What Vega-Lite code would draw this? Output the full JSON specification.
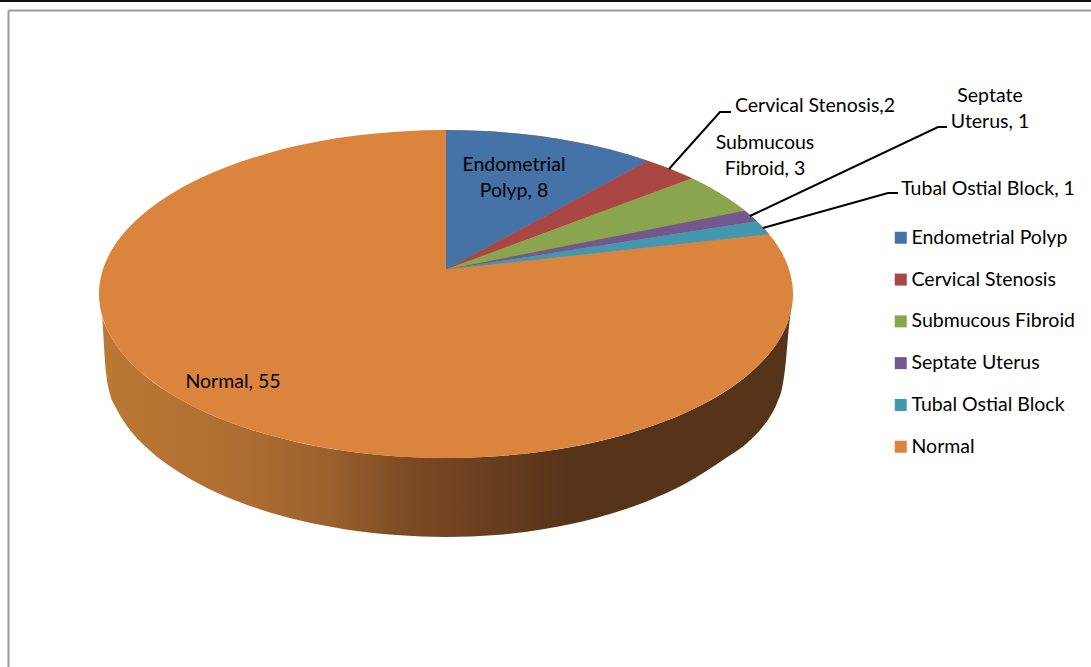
{
  "$schema": "https://vega.github.io/schema/vega-lite/v6.json",
  "width": 1091,
  "height": 667,
  "padding": 0,
  "autosize": "none",
  "background": "white",
  "config": {"view": {"stroke": null}, "font": "Lato"},
  "datasets": {
    "wall": [
      {"x": -347, "y": 0, "y2": 0}, {"x": -344, "y": -21.5, "y2": -21.5}, {"x": -340, "y": -32.8, "y2": -78},
      {"x": -336, "y": -41, "y2": -100}, {"x": -330, "y": -50.7, "y2": -113.9}, {"x": -320, "y": -63.4, "y2": -130.4},
      {"x": -300, "y": -82.4, "y2": -153}, {"x": -270, "y": -103, "y2": -176.3}, {"x": -240, "y": -118.5, "y2": -193.4},
      {"x": -200, "y": -134, "y2": -210.5}, {"x": -150, "y": -147.9, "y2": -225.6}, {"x": -100, "y": -157, "y2": -235.5},
      {"x": -50, "y": -162.3, "y2": -241.1},
      {"x": 0, "y": -164, "y2": -243},
      {"x": 50, "y": -162.3, "y2": -241}, {"x": 100, "y": -157, "y2": -234.8}, {"x": 150, "y": -147.9, "y2": -224},
      {"x": 200, "y": -134, "y2": -207.7}, {"x": 240, "y": -118.5, "y2": -189.2}, {"x": 280, "y": -96.9, "y2": -164},
      {"x": 300, "y": -82.4, "y2": -150}, {"x": 314, "y": -69.8, "y2": -136}, {"x": 325, "y": -57.5, "y2": -121},
      {"x": 331, "y": -49.2, "y2": -109}, {"x": 337, "y": -39.1, "y2": -89},
      {"x": 340, "y": -32.8, "y2": -66}, {"x": 342, "y": -27.7, "y2": -43}, {"x": 347, "y": 0, "y2": 0}
    ],
    "disk": [
      {"slice": "Normal", "order": 1, "x": 347, "y": 0}, {"slice": "Normal", "order": 2, "x": 335.2, "y": 42.4},
      {"slice": "Normal", "order": 3, "x": 300.5, "y": 82}, {"slice": "Normal", "order": 4, "x": 245.4, "y": 116},
      {"slice": "Normal", "order": 5, "x": 173.5, "y": 142}, {"slice": "Normal", "order": 6, "x": 89.8, "y": 158.4},
      {"slice": "Normal", "order": 7, "x": 0, "y": 164}, {"slice": "Normal", "order": 8, "x": -89.8, "y": 158.4},
      {"slice": "Normal", "order": 9, "x": -173.5, "y": 142}, {"slice": "Normal", "order": 10, "x": -245.4, "y": 116},
      {"slice": "Normal", "order": 11, "x": -300.5, "y": 82}, {"slice": "Normal", "order": 12, "x": -335.2, "y": 42.4},
      {"slice": "Normal", "order": 13, "x": -347, "y": 0}, {"slice": "Normal", "order": 14, "x": -335.2, "y": -42.4},
      {"slice": "Normal", "order": 15, "x": -300.5, "y": -82}, {"slice": "Normal", "order": 16, "x": -245.4, "y": -116},
      {"slice": "Normal", "order": 17, "x": -173.5, "y": -142}, {"slice": "Normal", "order": 18, "x": -89.8, "y": -158.4},
      {"slice": "Normal", "order": 19, "x": 0, "y": -164}, {"slice": "Normal", "order": 20, "x": 89.8, "y": -158.4},
      {"slice": "Normal", "order": 21, "x": 173.5, "y": -142}, {"slice": "Normal", "order": 22, "x": 245.4, "y": -116},
      {"slice": "Normal", "order": 23, "x": 300.5, "y": -82}, {"slice": "Normal", "order": 24, "x": 335.2, "y": -42.4}
    ],
    "slices": [
      {"slice": "Endometrial Polyp", "order": 1, "x": 0, "y": 24.5}, {"slice": "Endometrial Polyp", "order": 2, "x": 0, "y": 164},
      {"slice": "Endometrial Polyp", "order": 3, "x": 24.2, "y": 163.6}, {"slice": "Endometrial Polyp", "order": 4, "x": 48.3, "y": 162.4},
      {"slice": "Endometrial Polyp", "order": 5, "x": 72.1, "y": 160.4}, {"slice": "Endometrial Polyp", "order": 6, "x": 95.6, "y": 157.7},
      {"slice": "Endometrial Polyp", "order": 7, "x": 118.7, "y": 154.1}, {"slice": "Endometrial Polyp", "order": 8, "x": 141.1, "y": 149.8},
      {"slice": "Endometrial Polyp", "order": 9, "x": 162.9, "y": 144.8}, {"slice": "Endometrial Polyp", "order": 10, "x": 183.9, "y": 139.1},
      {"slice": "Endometrial Polyp", "order": 11, "x": 202, "y": 133},
      {"slice": "Cervical Stenosis", "order": 1, "x": 0, "y": 24.5}, {"slice": "Cervical Stenosis", "order": 2, "x": 202, "y": 133},
      {"slice": "Cervical Stenosis", "order": 3, "x": 223, "y": 125.6}, {"slice": "Cervical Stenosis", "order": 4, "x": 246, "y": 115.7},
      {"slice": "Submucous Fibroid", "order": 1, "x": 0, "y": 24.5}, {"slice": "Submucous Fibroid", "order": 2, "x": 246, "y": 115.7},
      {"slice": "Submucous Fibroid", "order": 3, "x": 265.8, "y": 105.4}, {"slice": "Submucous Fibroid", "order": 4, "x": 280.7, "y": 96.4},
      {"slice": "Submucous Fibroid", "order": 5, "x": 294.3, "y": 86.9}, {"slice": "Submucous Fibroid", "order": 6, "x": 299, "y": 83.2},
      {"slice": "Septate Uterus", "order": 1, "x": 0, "y": 24.5}, {"slice": "Septate Uterus", "order": 2, "x": 299, "y": 83.2},
      {"slice": "Septate Uterus", "order": 3, "x": 305, "y": 78.2}, {"slice": "Septate Uterus", "order": 4, "x": 311, "y": 72.7},
      {"slice": "Tubal Ostial Block", "order": 1, "x": 0, "y": 24.5}, {"slice": "Tubal Ostial Block", "order": 2, "x": 311, "y": 72.7},
      {"slice": "Tubal Ostial Block", "order": 3, "x": 317, "y": 66.7}, {"slice": "Tubal Ostial Block", "order": 4, "x": 323, "y": 59.9}
    ],
    "leaders": [
      {"to": "Cervical Stenosis", "order": 1, "x": 223, "y": 125}, {"to": "Cervical Stenosis", "order": 2, "x": 274, "y": 182}, {"to": "Cervical Stenosis", "order": 3, "x": 285, "y": 182},
      {"to": "Septate Uterus", "order": 1, "x": 304, "y": 78}, {"to": "Septate Uterus", "order": 2, "x": 492, "y": 167}, {"to": "Septate Uterus", "order": 3, "x": 501, "y": 167},
      {"to": "Tubal Ostial Block", "order": 1, "x": 317, "y": 66}, {"to": "Tubal Ostial Block", "order": 2, "x": 442, "y": 101}, {"to": "Tubal Ostial Block", "order": 3, "x": 452, "y": 101}
    ],
    "labels": [
      {"text": "Endometrial", "x": 68, "y": 129}, {"text": "Polyp, 8", "x": 68, "y": 103},
      {"text": "Cervical Stenosis,2", "x": 369, "y": 188},
      {"text": "Submucous", "x": 319, "y": 151}, {"text": "Fibroid, 3", "x": 319, "y": 125},
      {"text": "Septate", "x": 544, "y": 198}, {"text": "Uterus, 1", "x": 544, "y": 172},
      {"text": "Tubal Ostial Block, 1", "x": 542, "y": 105},
      {"text": "Normal, 55", "x": -213, "y": -88}
    ],
    "frameLines": [
      {"x": -437.5, "x2": 645, "y": 283.5, "y2": 283.5},
      {"x": -437.5, "x2": -437.5, "y": 283.5, "y2": -373}
    ],
    "topLine": [{"x": -446, "x2": 645, "y": 293, "y2": 293}]
  },
  "encoding": {
    "x": {"field": "x", "type": "quantitative", "scale": {"domain": [-446, 645], "nice": false, "zero": false}, "axis": null},
    "y": {"field": "y", "type": "quantitative", "scale": {"domain": [-373, 294], "nice": false, "zero": false}, "axis": null}
  },
  "layer": [
    {
      "data": {"name": "wall"},
      "mark": {
        "type": "area",
        "interpolate": "monotone",
        "fill": {
          "gradient": "linear", "x1": 0, "y1": 0, "x2": 1, "y2": 0,
          "stops": [
            {"offset": 0, "color": "#BC7834"},
            {"offset": 0.22, "color": "#AD6C30"},
            {"offset": 0.33, "color": "#9C612D"},
            {"offset": 0.43, "color": "#7F4D25"},
            {"offset": 0.55, "color": "#6B3F1F"},
            {"offset": 0.68, "color": "#57331A"},
            {"offset": 1, "color": "#57331A"}
          ]
        }
      },
      "encoding": {"y2": {"field": "y2"}}
    },
    {
      "data": {"name": "disk"},
      "mark": {"type": "line", "interpolate": "cardinal-closed", "strokeWidth": 0},
      "encoding": {
        "fill": {"field": "slice", "type": "nominal"},
        "order": {"field": "order", "type": "quantitative"}
      }
    },
    {
      "data": {"name": "slices"},
      "mark": {"type": "line", "interpolate": "linear-closed", "strokeWidth": 0},
      "encoding": {
        "fill": {
          "field": "slice",
          "type": "nominal",
          "scale": {
            "domain": ["Endometrial Polyp", "Cervical Stenosis", "Submucous Fibroid", "Septate Uterus", "Tubal Ostial Block", "Normal"],
            "range": ["#4572A7", "#AA4643", "#89A54E", "#71588F", "#4198AF", "#DB843D"]
          },
          "legend": {
            "title": null,
            "orient": "none",
            "legendX": 891,
            "legendY": 228,
            "symbolType": "square",
            "symbolSize": 144,
            "symbolStrokeWidth": 0,
            "symbolOpacity": 1,
            "labelFont": "Lato",
            "labelFontSize": 19.5,
            "labelColor": "#000000",
            "labelOffset": 1,
            "labelLimit": 300,
            "rowPadding": 20.8
          }
        },
        "order": {"field": "order", "type": "quantitative"}
      }
    },
    {
      "data": {"name": "leaders"},
      "mark": {"type": "line", "color": "#000000", "strokeWidth": 2},
      "encoding": {
        "detail": {"field": "to"},
        "order": {"field": "order", "type": "quantitative"}
      }
    },
    {
      "data": {"name": "labels"},
      "mark": {"type": "text", "font": "Lato", "fontSize": 19.5, "align": "center", "baseline": "middle", "color": "#000000"},
      "encoding": {"text": {"field": "text"}}
    },
    {
      "data": {"name": "frameLines"},
      "mark": {"type": "rule", "color": "#9A9A9A", "strokeWidth": 2},
      "encoding": {"x2": {"field": "x2"}, "y2": {"field": "y2"}}
    },
    {
      "data": {"name": "topLine"},
      "mark": {"type": "rule", "color": "#111111", "strokeWidth": 2},
      "encoding": {"x2": {"field": "x2"}, "y2": {"field": "y2"}}
    }
  ]
}
